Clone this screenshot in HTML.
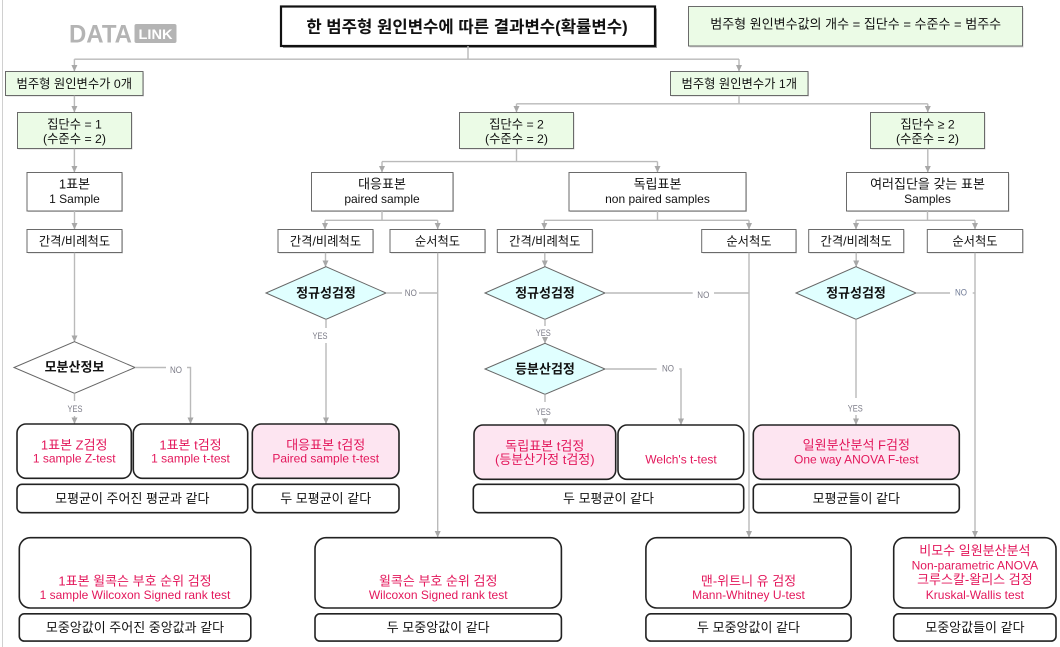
<!DOCTYPE html>
<html><head><meta charset="utf-8">
<style>
html,body{margin:0;padding:0;background:#fff;}
svg{display:block;}
text{font-family:"Liberation Sans","Noto Sans CJK KR",sans-serif;text-anchor:middle;fill:#111;}
.s11{font-size:12.3px;}
.s12{font-size:13px;}
.l12{font-size:12px;}
.red{fill:#e3175b;font-size:12px;}
.redk{fill:#e3175b;font-size:13px;}
.bd{font-weight:bold;font-size:13px;}
.yn{font-size:9px;fill:#7a7a86;}
.g{fill:#ebfbe6;stroke:#6a6a6a;stroke-width:1;}
.w{fill:#fff;stroke:#6a6a6a;stroke-width:1;}
.sh{fill:#d4d4d4;}
.r{fill:#fff;stroke:#222;stroke-width:1.6;}
.p{fill:#fde5f1;stroke:#222;stroke-width:1.6;}
.c{fill:#e0ffff;stroke:#666;stroke-width:1;}
.dw{fill:#fff;stroke:#666;stroke-width:1;}
.ln{stroke:#bababa;stroke-width:1.4;fill:none;}
.ar{stroke:#bababa;stroke-width:1.4;fill:none;marker-end:url(#a);}
</style></head>
<body>
<svg width="1060" height="647" viewBox="0 0 1060 647" xmlns="http://www.w3.org/2000/svg">
<defs>
<marker id="a" markerWidth="7" markerHeight="7" refX="6" refY="3.5" orient="auto" markerUnits="userSpaceOnUse">
<path d="M0,0.5 L6.5,3.5 L0,6.5 z" fill="#a8a8a8"/>
</marker>
</defs>

<!-- left border -->
<line x1="2.5" y1="0" x2="2.5" y2="647" stroke="#d0d0d0" stroke-width="1"/>

<!-- logo -->
<text x="69" y="42.5" style="font-size:25px;font-weight:bold;fill:#b4b4b4;text-anchor:start" textLength="63" lengthAdjust="spacingAndGlyphs">DATA</text>
<rect x="134.5" y="24" width="42" height="19" rx="2" fill="#b4b4b4"/>
<text x="155.5" y="39" style="font-size:14px;font-weight:bold;fill:#fff" textLength="34" lengthAdjust="spacingAndGlyphs">LINK</text>

<!-- title -->
<rect x="283" y="8.5" width="374" height="39.5" fill="#9a9a9a"/>
<rect x="281" y="6.5" width="374" height="39.5" fill="#fff" stroke="#111" stroke-width="2.2"/>
<text x="467" y="32.3" style="font-size:16.7px;font-weight:bold">한 범주형 원인변수에 따른 결과변수(확률변수)</text>

<!-- top-right note -->
<rect x="689.5" y="8" width="334" height="39.5" class="sh"/>
<rect x="688.5" y="6.5" width="334" height="39.5" class="g"/>
<text x="855.7" y="28.5" class="s12">범주형 원인변수값의 개수 = 집단수 = 수준수 = 범주수</text>

<!-- connectors top -->
<path class="ln" d="M468,46 V59.2 M74.4,59.2 H739"/>
<path class="ar" d="M74.4,59.2 V71"/>
<path class="ar" d="M739,59.2 V71"/>

<!-- level 1 -->
<rect x="6.5" y="72.5" width="137.5" height="24" class="sh"/>
<rect x="5.5" y="71.5" width="137.5" height="24" class="g"/>
<text x="74.3" y="87.8" class="s11">범주형 원인변수가 0개</text>
<rect x="671.5" y="72.5" width="137.5" height="24" class="sh"/>
<rect x="670.5" y="71.5" width="137.5" height="24" class="g"/>
<text x="739.3" y="87.8" class="s11">범주형 원인변수가 1개</text>

<path class="ar" d="M74.4,95.7 V112"/>
<path class="ln" d="M739,95.7 V103.8 M516.5,103.8 H927.8"/>
<path class="ar" d="M516.5,103.8 V112"/>
<path class="ar" d="M927.8,103.8 V112"/>

<!-- level 2 -->
<rect x="18.5" y="113.5" width="114" height="36" class="sh"/>
<rect x="17.5" y="112.5" width="114" height="36" class="g"/>
<text x="74.5" y="128.7" class="s11">집단수 = 1</text>
<text x="74.5" y="142.9" class="s11">(수준수 = 2)</text>
<rect x="460.5" y="113.5" width="114" height="36" class="sh"/>
<rect x="459.5" y="112.5" width="114" height="36" class="g"/>
<text x="516.5" y="128.7" class="s11">집단수 = 2</text>
<text x="516.5" y="142.9" class="s11">(수준수 = 2)</text>
<rect x="871.5" y="113.5" width="114" height="36" class="sh"/>
<rect x="870.5" y="112.5" width="114" height="36" class="g"/>
<text x="927.5" y="128.7" class="s11">집단수 ≥ 2</text>
<text x="927.5" y="142.9" class="s11">(수준수 = 2)</text>

<path class="ar" d="M74.4,148.7 V172"/>
<path class="ln" d="M516.5,148.7 V161.6 M382,161.6 H657.5"/>
<path class="ar" d="M382,161.6 V172"/>
<path class="ar" d="M657.5,161.6 V172"/>
<path class="ar" d="M927.8,148.7 V172"/>

<!-- level 3 -->
<rect x="28" y="173.5" width="95" height="38.5" class="sh"/>
<rect x="27" y="172.5" width="95" height="38.5" class="w"/>
<text x="74.5" y="188.6" class="s12">1표본</text>
<text x="74.5" y="203" class="l12">1 Sample</text>
<rect x="312.5" y="173.5" width="141.5" height="38.5" class="sh"/>
<rect x="311.5" y="172.5" width="141.5" height="38.5" class="w"/>
<text x="382" y="188.6" class="s12">대응표본</text>
<text x="382" y="203" class="l12">paired sample</text>
<rect x="570" y="173.5" width="177" height="38.5" class="sh"/>
<rect x="569" y="172.5" width="177" height="38.5" class="w"/>
<text x="657.5" y="188.6" class="s12">독립표본</text>
<text x="657.5" y="203" class="l12">non paired samples</text>
<rect x="847.5" y="173.5" width="162" height="38.5" class="sh"/>
<rect x="846.5" y="172.5" width="162" height="38.5" class="w"/>
<text x="927.5" y="188.6" class="s12">여러집단을 갖는 표본</text>
<text x="927.5" y="203" class="l12">Samples</text>

<path class="ar" d="M74.5,211 V229"/>
<path class="ln" d="M382,211 V220.3 M325,220.3 H437.7"/>
<path class="ar" d="M325,220.3 V229"/>
<path class="ar" d="M437.7,220.3 V229"/>
<path class="ln" d="M657.5,211 V220.3 M544.3,220.3 H749"/>
<path class="ar" d="M544.3,220.3 V229"/>
<path class="ar" d="M749,220.3 V229"/>
<path class="ln" d="M927.5,211 V220.3 M856,220.3 H975"/>
<path class="ar" d="M856,220.3 V229"/>
<path class="ar" d="M975,220.3 V229"/>

<!-- level 4 scale boxes -->
<g>
<rect x="28" y="230.5" width="95" height="23" class="sh"/>
<rect x="27" y="229.5" width="95" height="23" class="w"/>
<text x="74.5" y="245.3" class="s11">간격/비례척도</text>
<rect x="279" y="230.5" width="95" height="23" class="sh"/>
<rect x="278" y="229.5" width="95" height="23" class="w"/>
<text x="325.5" y="245.3" class="s11">간격/비례척도</text>
<rect x="391" y="230.5" width="95" height="23" class="sh"/>
<rect x="390" y="229.5" width="95" height="23" class="w"/>
<text x="437.5" y="245.3" class="s11">순서척도</text>
<rect x="498.3" y="230.5" width="95" height="23" class="sh"/>
<rect x="497.3" y="229.5" width="95" height="23" class="w"/>
<text x="544.8" y="245.3" class="s11">간격/비례척도</text>
<rect x="702.7" y="230.5" width="94.3" height="23" class="sh"/>
<rect x="701.7" y="229.5" width="94.3" height="23" class="w"/>
<text x="749" y="245.3" class="s11">순서척도</text>
<rect x="809.7" y="230.5" width="95" height="23" class="sh"/>
<rect x="808.7" y="229.5" width="95" height="23" class="w"/>
<text x="856.2" y="245.3" class="s11">간격/비례척도</text>
<rect x="928.3" y="230.5" width="95.4" height="23" class="sh"/>
<rect x="927.3" y="229.5" width="95.4" height="23" class="w"/>
<text x="975" y="245.3" class="s11">순서척도</text>
</g>

<!-- left branch: 모분산정보 -->
<path class="ar" d="M74.5,252.7 V341.5"/>
<polygon class="dw" points="74.5,341.7 135,367.5 74.5,393.3 14,367.5"/>
<text x="74.5" y="371.6" class="bd">모분산정보</text>
<path class="ln" d="M135,367.5 H166"/>
<text x="176" y="373" class="yn" textLength="12" lengthAdjust="spacingAndGlyphs">NO</text>
<path class="ar" d="M187,367.5 H190.5 V423.5"/>
<path class="ln" d="M74.5,393.3 V401"/>
<text x="75" y="412.2" class="yn" textLength="15" lengthAdjust="spacingAndGlyphs">YES</text>
<path class="ar" d="M74.5,416 V423.5"/>

<!-- 대응 branch -->
<path class="ar" d="M325.5,252.7 V266.5"/>
<polygon class="c" points="326,266.7 386,293 326,319.3 266,293"/>
<text x="326" y="297.7" class="bd">정규성검정</text>
<path class="ln" d="M386,293 H402"/>
<text x="410.8" y="295.8" class="yn" textLength="12" lengthAdjust="spacingAndGlyphs">NO</text>
<path class="ln" d="M419,293 H437.7"/>
<path class="ln" d="M326,319.3 V328"/>
<text x="320" y="339" class="yn" textLength="15" lengthAdjust="spacingAndGlyphs">YES</text>
<path class="ar" d="M326,343 V423.5"/>
<path class="ar" d="M437.7,252.7 V537"/>

<!-- 독립 branch -->
<path class="ar" d="M544.8,252.7 V266.5"/>
<polygon class="c" points="545,266.7 605,293 545,319.3 485,293"/>
<text x="545" y="297.7" class="bd">정규성검정</text>
<path class="ln" d="M605,293 H692.7"/>
<text x="703.3" y="298.2" class="yn" textLength="12" lengthAdjust="spacingAndGlyphs">NO</text>
<path class="ln" d="M714,293 H749"/>
<path class="ln" d="M545,319.3 V326"/>
<text x="543.3" y="336" class="yn" textLength="15" lengthAdjust="spacingAndGlyphs">YES</text>
<path class="ar" d="M545,339 V343"/>
<polygon class="c" points="545,343.3 605,369 545,394.3 485,369"/>
<text x="545" y="373.7" class="bd">등분산검정</text>
<path class="ln" d="M605,369 H656.7"/>
<text x="668" y="371.5" class="yn" textLength="12" lengthAdjust="spacingAndGlyphs">NO</text>
<path class="ar" d="M679.3,369 H681 V424.5"/>
<path class="ln" d="M545,394.3 V402"/>
<text x="543.3" y="415" class="yn" textLength="15" lengthAdjust="spacingAndGlyphs">YES</text>
<path class="ar" d="M545,418 V424.5"/>
<path class="ar" d="M749,252.7 V537"/>

<!-- 여러 branch -->
<path class="ar" d="M856.2,252.7 V266.5"/>
<polygon class="c" points="856,266.7 916,293 856,319.3 796,293"/>
<text x="856" y="297.7" class="bd">정규성검정</text>
<path class="ln" d="M916,293 H950"/>
<text x="961" y="295.6" class="yn" textLength="12" lengthAdjust="spacingAndGlyphs" style="fill:#6f7a96">NO</text>
<path class="ln" d="M972.7,293 H975"/>
<path class="ln" d="M856,319.3 V398"/>
<text x="855.3" y="411.5" class="yn" textLength="15" lengthAdjust="spacingAndGlyphs">YES</text>
<path class="ar" d="M856,415 V424.5"/>
<path class="ar" d="M975,252.7 V537"/>

<!-- result row 1 -->
<rect x="17" y="424" width="114.3" height="54.3" rx="9" class="r"/>
<text x="74.2" y="449.6" class="redk">1표본 Z검정</text>
<text x="74.2" y="462.6" class="red">1 sample Z-test</text>
<rect x="133.3" y="424" width="114.4" height="54.3" rx="9" class="r"/>
<text x="190.5" y="449.6" class="redk">1표본 t검정</text>
<text x="190.5" y="462.6" class="red">1 sample t-test</text>
<rect x="252.3" y="424" width="146.7" height="54.3" rx="9" class="p"/>
<text x="325.7" y="449.6" class="redk">대응표본 t검정</text>
<text x="325.7" y="462.6" class="red">Paired sample t-test</text>
<rect x="474" y="425" width="141.7" height="54.3" rx="9" class="p"/>
<text x="544.8" y="450.6" class="redk">독립표본 t검정</text>
<text x="544.8" y="463.9" class="redk">(등분산가정 t검정)</text>
<rect x="618" y="425" width="125.7" height="54.3" rx="9" class="r"/>
<text x="681" y="463.6" class="red">Welch's t-test</text>
<rect x="753.3" y="425" width="206" height="54.3" rx="9" class="p"/>
<text x="856.3" y="449.6" class="redk">일원분산분석 F검정</text>
<text x="856.3" y="463.3" class="red">One way ANOVA F-test</text>

<!-- summary row 1 -->
<rect x="17" y="484.3" width="230.7" height="28.4" rx="5" class="r"/>
<text x="132.3" y="502.9" class="s12">모평균이 주어진 평균과 같다</text>
<rect x="252.3" y="484.3" width="146.7" height="28.4" rx="5" class="r"/>
<text x="325.7" y="502.9" class="s12">두 모평균이 같다</text>
<rect x="473.3" y="484.3" width="270.4" height="28.4" rx="5" class="r"/>
<text x="608.5" y="502.9" class="s12">두 모평균이 같다</text>
<rect x="753.3" y="484.3" width="206" height="28.4" rx="5" class="r"/>
<text x="856.3" y="502.9" class="s12">모평균들이 같다</text>

<!-- bottom row -->
<rect x="19.3" y="537.7" width="231.5" height="70.3" rx="11" class="r"/>
<text x="135" y="585.6" class="redk">1표본 윌콕슨 부호 순위 검정</text>
<text x="135" y="598.8" class="red">1 sample Wilcoxon Signed rank test</text>
<rect x="315" y="537.7" width="246.4" height="70.3" rx="11" class="r"/>
<text x="438.2" y="585.6" class="redk">윌콕슨 부호 순위 검정</text>
<text x="438.2" y="598.8" class="red">Wilcoxon Signed rank test</text>
<rect x="645.9" y="537.7" width="205.2" height="70.3" rx="11" class="r"/>
<text x="748.5" y="585.6" class="redk">맨-위트니 유 검정</text>
<text x="748.5" y="598.8" class="red">Mann-Whitney U-test</text>
<rect x="893.7" y="537.7" width="162.3" height="70.3" rx="11" class="r"/>
<text x="974.9" y="555.2" class="redk">비모수 일원분산분석</text>
<text x="974.9" y="569.4" class="red">Non-parametric ANOVA</text>
<text x="974.9" y="583.9" class="redk">크루스칼-왈리스 검정</text>
<text x="974.9" y="598.8" class="red">Kruskal-Wallis test</text>

<!-- bottom summaries -->
<rect x="19.3" y="613.8" width="231.5" height="27.3" rx="5" class="r"/>
<text x="135" y="632.2" class="s12">모중앙값이 주어진 중앙값과 같다</text>
<rect x="315" y="613.8" width="246.4" height="27.3" rx="5" class="r"/>
<text x="438.2" y="632.2" class="s12">두 모중앙값이 같다</text>
<rect x="645.9" y="613.8" width="205.2" height="27.3" rx="5" class="r"/>
<text x="748.5" y="632.2" class="s12">두 모중앙값이 같다</text>
<rect x="893.7" y="613.8" width="162.3" height="27.3" rx="5" class="r"/>
<text x="974.9" y="632.2" class="s12">모중앙값들이 같다</text>
</svg>
</body></html>
